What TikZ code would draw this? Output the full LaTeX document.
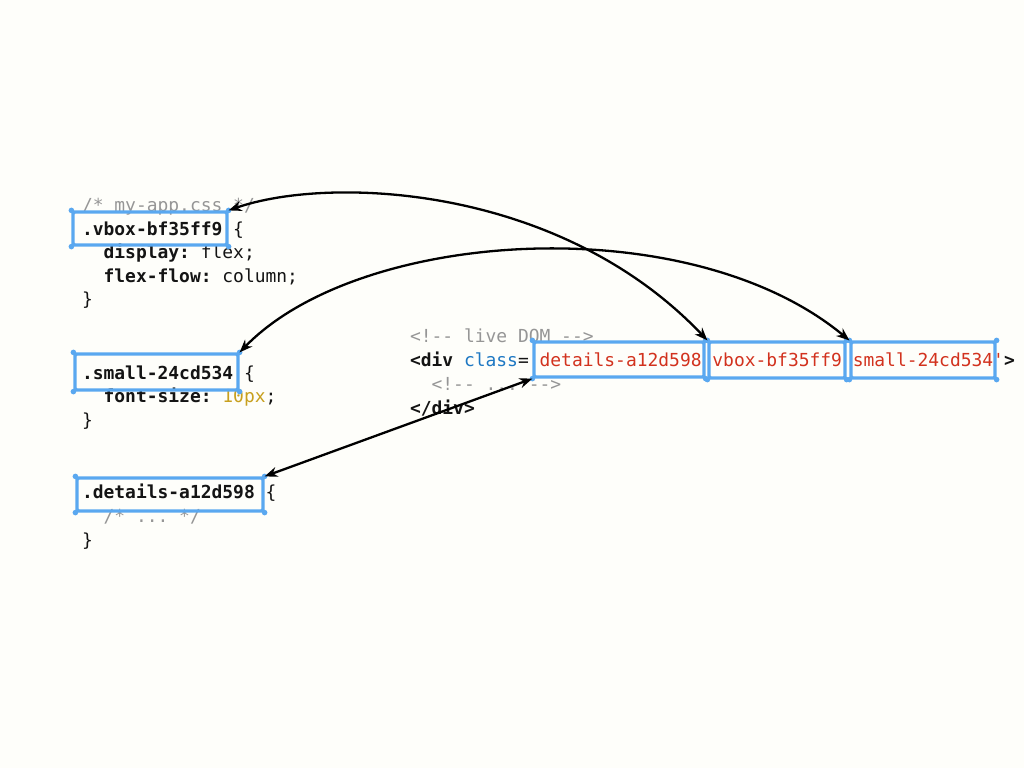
\documentclass[tikz,border=0pt]{standalone}
\usepackage{fontspec}
\setmonofont{DejaVu Sans Mono}
\usetikzlibrary{arrows.meta}
\definecolor{bgc}{RGB}{254,254,250}
\definecolor{hl}{RGB}{90,168,240}
\definecolor{cgray}{RGB}{150,150,150}
\definecolor{cred}{RGB}{210,50,30}
\definecolor{cblue}{RGB}{30,120,195}
\definecolor{cgold}{RGB}{200,160,30}
\definecolor{ink}{RGB}{20,20,20}
\newcommand\cmt[1]{\textcolor{cgray}{#1}}
\newcommand\kw[1]{\textbf{#1}}
\begin{document}
\begin{tikzpicture}[x=1pt,y=-1pt,
  code/.style={anchor=base west, inner sep=0pt, outer sep=0pt,
    font=\ttfamily\fontsize{17.94}{22}\selectfont, text=ink},
  hlbox/.style={draw=hl, line width=3.2pt, rounded corners=1.5pt, inner sep=0pt},
  link/.style={line width=2.3pt, black,
    {Stealth[length=13pt,width=10pt]}-{Stealth[length=13pt,width=10pt]}}]
\useasboundingbox (0,0) rectangle (1024,768);
\fill[bgc] (0,0) rectangle (1024,768);

% CSS block 1
\node[code] (c11) at (82,211.5) {\cmt{/* my-app.css */}};
\node[code] (c12) at (82,235.5) {\kw{.vbox-bf35ff9} \{};
\node[code] (c13) at (103.6,258.5) {\kw{display:} flex;};
\node[code] (c14) at (103.6,282.5) {\kw{flex-flow:} column;};
\node[code] (c15) at (82,305.5) {\}};
% CSS block 2
\node[code] (c21) at (82,379.5) {\kw{.small-24cd534} \{};
\node[code] (c22) at (103.6,402.5) {\kw{font-size:} \textcolor{cgold}{10px};};
\node[code] (c23) at (82,426.5) {\}};
% CSS block 3
\node[code] (c31) at (82,498.5) {\kw{.details-a12d598} \{};
\node[code] (c32) at (103.6,522.5) {\cmt{/* ... */}};
\node[code] (c33) at (82,546.5) {\}};
% DOM
\node[code] (h1) at (410,342.5) {\cmt{<!-- live DOM -->}};
\node[code] (h2) at (410,366.5) {\kw{<div} \textcolor{cblue}{class}=\textcolor{cred}{'details-a12d598 vbox-bf35ff9 small-24cd534'}\kw{>}};
\node[code] (h3) at (431.6,390.5) {\cmt{<!-- ... -->}};
\node[code] (h4) at (410,414.5) {\kw{</div>}};

% highlight boxes
\node[hlbox, minimum width=154pt, minimum height=33pt] (s1) at (150,228.5) {};
\node[hlbox, minimum width=163pt, minimum height=36pt] (s2) at (156.5,372) {};
\node[hlbox, minimum width=186pt, minimum height=33pt] (s3) at (170,494.5) {};
\node[hlbox, minimum width=170pt, minimum height=35pt] (d1) at (619,359.5) {};
\node[hlbox, minimum width=136pt, minimum height=36pt] (d2) at (777,360) {};
\node[hlbox, minimum width=144pt, minimum height=36pt] (d3) at (923,360) {};
\foreach \n in {s1,s2,s3,d1,d2,d3}
  \foreach \a in {north east,north west,south east,south west}
    \fill[hl] (\n.\a) circle (2.8pt);

% links
\draw[link] (s1.north east) .. controls (330,175) and (560,185) .. (d2.north west);
\draw[link] (s2.north east) .. controls (360,228) and (690,208) .. (d3.north west);
\draw[link] (s3.north east) -- (d1.south west);
\end{tikzpicture}
\end{document}
